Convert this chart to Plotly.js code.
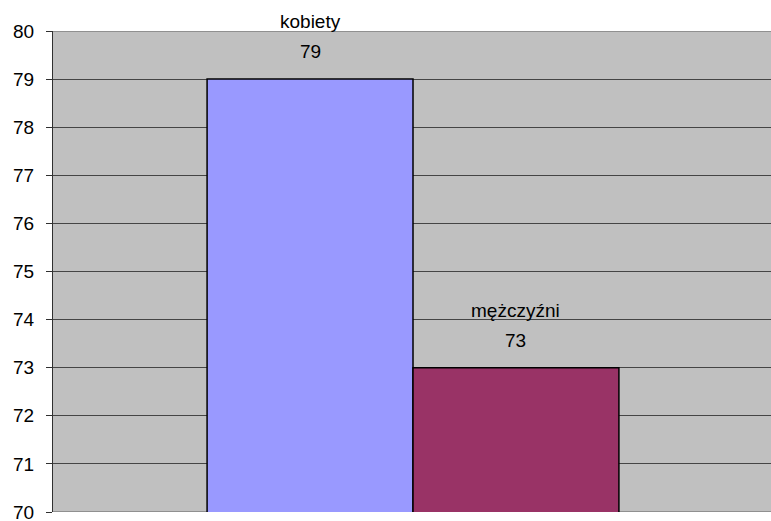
<!DOCTYPE html>
<html>
<head>
<meta charset="utf-8">
<script src="https://cdn.plot.ly/plotly-3.0.1.min.js"></script>
<style>
html, body { margin: 0; padding: 0; overflow: hidden; background: #ffffff; }
#chart { width: 773px; height: 521px; }
</style>
</head>
<body>
<div id="chart"></div>
<script>
const categories = [""];
const seriesNames = ["kobiety", "mężczyźni"];
const seriesValues = [[79], [73]];
const seriesColors = ["#9999FF", "#993366"];
const yTicks = [70, 71, 72, 73, 74, 75, 76, 77, 78, 79, 80];

const W = 773, H = 521;
const margin = {l: 53, r: 0, t: 31, b: 9, pad: 0};
const bargap = 0.428;
const plotW = W - margin.l - margin.r;
const barW = plotW * (1 - bargap) / seriesNames.length;
const labelFont = {family: 'Arial, "Liberation Sans", sans-serif', size: 19, color: '#000000'};

const traces = seriesNames.map((name, i) => ({
  type: 'bar',
  name: name,
  x: categories,
  y: seriesValues[i],
  marker: {color: seriesColors[i], line: {color: '#000000', width: 1.5}},
  hoverinfo: 'skip'
}));

const annotations = [];
seriesNames.forEach((name, i) => {
  const shift = (i - (seriesNames.length - 1) / 2) * barW;
  seriesValues[i].forEach((v, j) => {
    annotations.push({
      x: categories[j], y: v, xref: 'x', yref: 'y',
      text: String(v),
      showarrow: false, xanchor: 'center', yanchor: 'bottom',
      xshift: shift, yshift: 15, font: labelFont
    });
    annotations.push({
      x: categories[j], y: v, xref: 'x', yref: 'y',
      text: name,
      showarrow: false, xanchor: 'center', yanchor: 'bottom',
      xshift: shift, yshift: 45, font: labelFont
    });
  });
});

const layout = {
  width: W, height: H,
  margin: margin,
  paper_bgcolor: '#ffffff',
  plot_bgcolor: '#C0C0C0',
  showlegend: false,
  barmode: 'group',
  bargap: bargap,
  bargroupgap: 0,
  xaxis: {
    type: 'category',
    range: [-0.5, categories.length - 0.5],
    showgrid: false, zeroline: false, showline: false,
    showticklabels: false, ticks: '', fixedrange: true
  },
  yaxis: {
    range: [70, 80],
    tickvals: yTicks,
    ticktext: yTicks.map(String),
    showgrid: true, gridcolor: '#454545', gridwidth: 1,
    zeroline: false,
    showline: true, linecolor: '#303030', linewidth: 1,
    ticks: 'outside', ticklen: 6, tickcolor: '#303030', tickwidth: 1,
    ticklabelstandoff: 8,
    ticklabeloverflow: 'allow',
    tickfont: {family: 'Arial, "Liberation Sans", sans-serif', size: 19, color: '#000000'},
    fixedrange: true
  },
  shapes: [
    {type: 'line', xref: 'paper', yref: 'y', x0: 0, x1: 1, y0: 80, y1: 80,
     line: {color: '#808080', width: 1.5}, layer: 'above'},
    {type: 'line', xref: 'paper', yref: 'y', x0: 0, x1: 1, y0: 70, y1: 70,
     line: {color: '#808080', width: 1.5}, layer: 'below'}
  ],
  annotations: annotations
};

Plotly.newPlot('chart', traces, layout, {displayModeBar: false, staticPlot: true});
</script>
</body>
</html>
